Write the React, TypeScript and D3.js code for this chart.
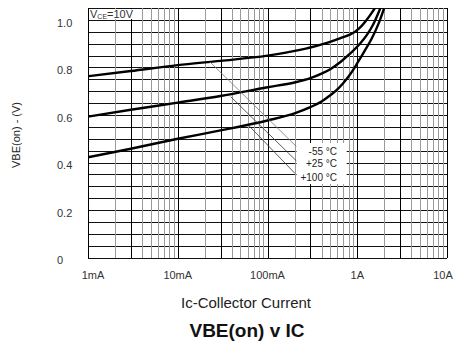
import React from "react";
import * as d3 from "d3";

const width = 459;
const height = 344;
const margin = { top: 8, right: 12, bottom: 86.5, left: 88 };
const font = "'Liberation Sans', Arial, sans-serif";

// collector current in A, VBE(on) in V
const coldI = [0.001, 0.003, 0.01, 0.03, 0.1, 0.23, 0.385, 0.64, 0.94, 1.1, 1.27, 1.45, 1.7];
const coldV = [0.763, 0.785, 0.81, 0.828, 0.85, 0.874, 0.895, 0.923, 0.95, 0.972, 1.0, 1.03, 1.07];
const roomI = [0.001, 0.003, 0.01, 0.03, 0.1, 0.2, 0.3, 0.4, 0.5, 0.65, 0.83, 1.07, 1.27, 1.5, 1.9];
const roomV = [0.593, 0.622, 0.652, 0.68, 0.717, 0.737, 0.755, 0.774, 0.793, 0.823, 0.858, 0.9, 0.935, 0.98, 1.07];
const hotI = [0.001, 0.003, 0.01, 0.03, 0.1, 0.2, 0.3, 0.4, 0.5, 0.6, 0.7, 0.8, 0.9, 1.0, 1.2, 1.45, 1.75, 2.08];
const hotV = [0.422, 0.458, 0.5, 0.535, 0.577, 0.607, 0.633, 0.657, 0.683, 0.708, 0.735, 0.762, 0.79, 0.818, 0.868, 0.922, 0.99, 1.07];

const seriesNames = ["-55 °C", "+25 °C", "+100 °C"];
// leader lines: start on curve, end at the label box
const leaderFromI = [0.0229, 0.0389, 0.061];
const leaderFromV = [0.823, 0.677, 0.558];
const leaderToI = [0.211, 0.211, 0.202];
const leaderToV = [0.4665, 0.406, 0.3545];
const labelI = 0.595;
const labelV = [0.445, 0.394, 0.336];
const boxI = [0.211, 0.762];
const boxV = [0.482, 0.309];

const xTicks = [0.001, 0.01, 0.1, 1, 10];
const xTickLabels = ["1mA", "10mA", "100mA", "1A", "10A"];
const yTicks = [0, 0.2, 0.4, 0.6, 0.8, 1.0];
const yTickLabels = ["0", "0.2", "0.4", "0.6", "0.8", "1.0"];
const yMax = 1.05;

const x = d3.scaleLog().domain([0.001, 10]).range([margin.left, width - margin.right]);
const y = d3.scaleLinear().domain([0, 1]).range([height - margin.bottom, 20]);

const line = d3
  .line<[number, number]>()
  .x(d => x(d[0]))
  .y(d => y(d[1]))
  .curve(d3.curveMonotoneX);

const zip = (a: number[], b: number[]) => a.map((v, i) => [v, b[i]] as [number, number]);
const curves = [zip(coldI, coldV), zip(roomI, roomV), zip(hotI, hotV)];

// vertical grid: 1..9 per decade
const vLines: { v: number; dark: boolean }[] = [];
for (let e = -3; e <= 0; e++) {
  for (let m = 1; m <= 9; m++) {
    vLines.push({ v: m * Math.pow(10, e), dark: m === 1 || m === 3 });
  }
}
vLines.push({ v: 10, dark: true });
const hLines = d3.range(0, 22).map(i => i * 0.05);

export default function App() {
  const x0 = x(0.001);
  const x1 = x(10);
  const yb = y(0);
  const yt = y(yMax);
  const px = (v: number) => Math.round(v) + 0.5;

  return (
    <svg
      width={width}
      height={height}
      style={{ position: "absolute", left: 0, top: 0, background: "#fff" }}
      fontFamily={font}
    >
      <defs>
        <clipPath id="plot">
          <rect x={x0} y={yt} width={x1 - x0} height={yb - yt} />
        </clipPath>
      </defs>

      <g shapeRendering="crispEdges">
        {hLines.map((v, i) => (
          <line key={"h" + i} x1={x0} x2={x1} y1={px(y(v))} y2={px(y(v))} stroke="#111" strokeWidth={1} />
        ))}
        {vLines.map((d, i) => (
          <line
            key={"v" + i}
            x1={px(x(d.v))}
            x2={px(x(d.v))}
            y1={yt}
            y2={yb}
            stroke={d.dark ? "#000" : "#999"}
            strokeWidth={1}
          />
        ))}
      </g>

      <g clipPath="url(#plot)">
        {curves.map((c, i) => (
          <path key={i} d={line(c) || ""} fill="none" stroke="#000" strokeWidth={2.4} />
        ))}
      </g>

      {seriesNames.map((n, i) => (
        <line
          key={"l" + i}
          x1={x(leaderFromI[i])}
          y1={y(leaderFromV[i])}
          x2={x(leaderToI[i])}
          y2={y(leaderToV[i])}
          stroke={i === 0 ? "#777" : "#333"}
          strokeWidth={0.8}
        />
      ))}
      <rect
        x={x(boxI[0])}
        y={y(boxV[0])}
        width={x(boxI[1]) - x(boxI[0])}
        height={y(boxV[1]) - y(boxV[0])}
        fill="#fff"
      />
      {seriesNames.map((n, i) => (
        <text key={"t" + i} x={x(labelI)} y={y(labelV[i])} dy="0.35em" textAnchor="end" fontSize={10} fill="#222">
          {n}
        </text>
      ))}

      <rect x={x0 + 1} y={yt + 1} width={46} height={y(1) - yt - 2} fill="#fff" />
      <text x={x0 + 2} y={y(1) - 2} fontSize={11} fill="#333">
        V<tspan fontSize={7} dy={1}>CE</tspan>
        <tspan dy={-1}>=10V</tspan>
      </text>

      {yTicks.map((v, i) => (
        <text key={"y" + i} x={57} y={y(v) + 3} dy="0.35em" fontSize={11} fill="#333">
          {yTickLabels[i]}
        </text>
      ))}
      {xTicks.map((v, i) => (
        <text
          key={"x" + i}
          x={Math.min(Math.max(x(v), x0 + 5), x1 - 4)}
          y={279}
          textAnchor="middle"
          fontSize={11}
          fill="#333"
        >
          {xTickLabels[i]}
        </text>
      ))}

      <text transform={`translate(20,135) rotate(-90)`} textAnchor="middle" fontSize={11} fill="#222">
        VBE(on) - (V)
      </text>
      <text x={246} y={308} textAnchor="middle" fontSize={15} fill="#222">
        Ic-Collector Current
      </text>
      <text x={247} y={337} textAnchor="middle" fontSize={19} fontWeight="bold" fill="#111">
        VBE(on) v IC
      </text>
    </svg>
  );
}
